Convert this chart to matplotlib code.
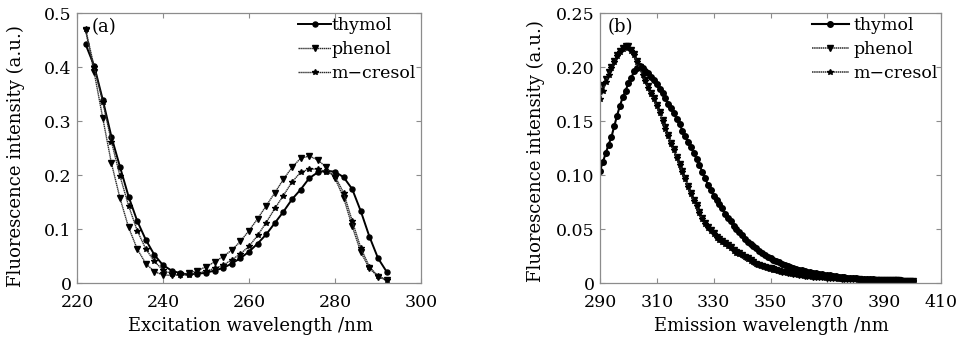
import matplotlib
matplotlib.use("Agg")
import matplotlib.pyplot as plt

plt.rcParams['font.family'] = ['DejaVu Serif']
plt.rcParams['mathtext.fontset'] = 'dejavuserif'

# ---------------- Panel (a): excitation spectra ----------------
ex_wl = [222, 224, 226, 228, 230, 232, 234, 236, 238, 240, 242, 244, 246, 248,
         250, 252, 254, 256, 258, 260, 262, 264, 266, 268, 270, 272, 274, 276,
         278, 280, 282, 284, 286, 288, 290, 292]
ex_thymol = [0.442, 0.402, 0.339, 0.271, 0.215, 0.160, 0.115, 0.080, 0.052, 0.033,
             0.023, 0.018, 0.016, 0.017, 0.019, 0.023, 0.028, 0.036, 0.046, 0.058,
             0.073, 0.090, 0.111, 0.132, 0.155, 0.173, 0.194, 0.205, 0.208, 0.206,
             0.196, 0.174, 0.133, 0.086, 0.046, 0.021]
ex_phenol = [0.468, 0.390, 0.305, 0.222, 0.157, 0.103, 0.063, 0.036, 0.021, 0.015,
             0.014, 0.015, 0.018, 0.023, 0.030, 0.039, 0.049, 0.061, 0.077, 0.097,
             0.119, 0.143, 0.167, 0.192, 0.214, 0.231, 0.235, 0.228, 0.214, 0.194,
             0.158, 0.105, 0.057, 0.027, 0.012, 0.005]
ex_mcresol = [0.470, 0.400, 0.335, 0.262, 0.198, 0.143, 0.097, 0.063, 0.040, 0.024,
              0.017, 0.014, 0.015, 0.018, 0.022, 0.027, 0.033, 0.043, 0.054, 0.068,
              0.088, 0.112, 0.138, 0.162, 0.187, 0.205, 0.211, 0.211, 0.206, 0.198,
              0.167, 0.115, 0.065, 0.030, 0.013, 0.006]

# ---------------- Panel (b): emission spectra ----------------
em_wl = list(range(290, 401))
em_thymol = [0.104, 0.112, 0.120, 0.128, 0.135, 0.145, 0.155, 0.164, 0.172, 0.178,
             0.185, 0.190, 0.196, 0.199, 0.201, 0.199, 0.196, 0.194, 0.191, 0.188,
             0.184, 0.180, 0.176, 0.171, 0.166, 0.162, 0.157, 0.152, 0.147, 0.141,
             0.136, 0.131, 0.126, 0.120, 0.115, 0.109, 0.103, 0.097, 0.091, 0.086,
             0.081, 0.077, 0.073, 0.069, 0.064, 0.060, 0.057, 0.053, 0.050, 0.047,
             0.044, 0.041, 0.038, 0.036, 0.034, 0.032, 0.030, 0.028, 0.026, 0.024,
             0.023, 0.021, 0.020, 0.019, 0.018, 0.017, 0.016, 0.015, 0.014, 0.013,
             0.0125, 0.012, 0.011, 0.0105, 0.010, 0.0095, 0.009, 0.0085, 0.008, 0.0078,
             0.0075, 0.007, 0.0066, 0.0062, 0.0058, 0.0055, 0.0052, 0.005, 0.0047, 0.0045,
             0.0043, 0.0041, 0.0039, 0.0037, 0.0036, 0.0034, 0.0033, 0.0032, 0.0031, 0.003,
             0.0029, 0.0028, 0.0027, 0.0026, 0.0025, 0.0025, 0.0024, 0.0023, 0.0023, 0.0022,
             0.0022]
em_phenol = [0.178, 0.183, 0.189, 0.195, 0.200, 0.206, 0.211, 0.215, 0.218, 0.219,
             0.219, 0.216, 0.212, 0.206, 0.200, 0.194, 0.188, 0.182, 0.176, 0.171,
             0.165, 0.158, 0.151, 0.144, 0.137, 0.130, 0.124, 0.117, 0.110, 0.104,
             0.097, 0.090, 0.083, 0.077, 0.072, 0.066, 0.060, 0.056, 0.052, 0.049,
             0.046, 0.043, 0.041, 0.039, 0.037, 0.035, 0.033, 0.031, 0.029, 0.0275,
             0.026, 0.0245, 0.023, 0.021, 0.0195, 0.018, 0.017, 0.016, 0.015, 0.014,
             0.0135, 0.0128, 0.012, 0.0113, 0.0106, 0.010, 0.0095, 0.009, 0.0085, 0.008,
             0.0076, 0.0072, 0.0069, 0.0066, 0.0063, 0.006, 0.0058, 0.0056, 0.0054, 0.0052,
             0.005, 0.0048, 0.0046, 0.0044, 0.0042, 0.004, 0.0038, 0.0037, 0.0036, 0.0035,
             0.0034, 0.0033, 0.0032, 0.0031, 0.003, 0.003, 0.0029, 0.0028, 0.0028, 0.0027,
             0.0026, 0.0026, 0.0025, 0.0025, 0.0024, 0.0024, 0.0023, 0.0023, 0.0022, 0.0022,
             0.0021]
em_mcresol = [0.170, 0.178, 0.186, 0.193, 0.199, 0.205, 0.210, 0.214, 0.217, 0.219,
              0.218, 0.215, 0.211, 0.205, 0.199, 0.193, 0.187, 0.181, 0.175, 0.170,
              0.164, 0.157, 0.150, 0.143, 0.136, 0.129, 0.123, 0.116, 0.109, 0.103,
              0.096, 0.089, 0.082, 0.076, 0.071, 0.065, 0.059, 0.055, 0.051, 0.048,
              0.045, 0.042, 0.040, 0.038, 0.036, 0.034, 0.032, 0.030, 0.028, 0.027,
              0.0255, 0.024, 0.0225, 0.0205, 0.019, 0.0175, 0.0165, 0.0155, 0.0145, 0.0138,
              0.0132, 0.0125, 0.0118, 0.011, 0.0104, 0.0098, 0.0093, 0.0088, 0.0083, 0.0079,
              0.0075, 0.0071, 0.0068, 0.0065, 0.0062, 0.0059, 0.0057, 0.0055, 0.0053, 0.0051,
              0.0049, 0.0047, 0.0045, 0.0043, 0.0041, 0.0039, 0.0037, 0.0036, 0.0035, 0.0034,
              0.0033, 0.0032, 0.0031, 0.003, 0.003, 0.0029, 0.0028, 0.0028, 0.0027, 0.0026,
              0.0026, 0.0025, 0.0025, 0.0024, 0.0024, 0.0023, 0.0023, 0.0022, 0.0022, 0.0021,
              0.0021]

labels = ["thymol", "phenol", "m\u2212cresol"]

ex_xticks = [220, 240, 260, 280, 300]
ex_yticks = [0, 0.1, 0.2, 0.3, 0.4, 0.5]
ex_yticklabels = ["0", "0.1", "0.2", "0.3", "0.4", "0.5"]
em_xticks = [290, 310, 330, 350, 370, 390, 410]
em_yticks = [0, 0.05, 0.10, 0.15, 0.20, 0.25]
em_yticklabels = ["0", "0.05", "0.10", "0.15", "0.20", "0.25"]

FS = 12.5
LFS = 13
fig = plt.figure(figsize=(9.65, 3.39), dpi=100)
axA = fig.add_axes([77/965, 1-283/339, (421-77)/965, (283-13)/339])
axB = fig.add_axes([600/965, 1-283/339, (941-600)/965, (283-13)/339])

stylesA = [
    dict(color='black', lw=1.4, ls='-', marker='o', ms=3.6),
    dict(color='#2a2a2a', lw=1.0, ls=(0, (1, 0.4)), marker='v', ms=3.8),
    dict(color='#2a2a2a', lw=1.0, ls=(0, (1, 0.4)), marker='*', ms=3.8),
]
stylesB = [
    dict(color='black', lw=1.5, ls='-', marker='o', ms=4.0),
    dict(color='#2a2a2a', lw=1.1, ls=(0, (1, 0.4)), marker='v', ms=4.2),
    dict(color='#2a2a2a', lw=1.1, ls=(0, (1, 0.4)), marker='*', ms=4.0),
]

for ax, x, ys, styles in [(axA, ex_wl, [ex_thymol, ex_phenol, ex_mcresol], stylesA),
                          (axB, em_wl, [em_thymol, em_phenol, em_mcresol], stylesB)]:
    for y, lab, st in zip(ys, labels, styles):
        ax.plot(x, y, label=lab, markerfacecolor='black', markeredgecolor='black', **st)
    for sp in ax.spines.values():
        sp.set_color('#8c8c8c')
        sp.set_linewidth(0.9)
    ax.tick_params(direction='in', top=True, right=True, length=3.5, width=0.8,
                   color='#8c8c8c', labelsize=FS, labelcolor='black')
    ax.tick_params(axis='x', pad=8)
    ax.tick_params(axis='y', pad=4)
    ax.set_ylabel("Fluorescence intensity (a.u.)", fontsize=LFS)

axA.set_xlim(220, 300)
axA.set_ylim(0, 0.5)
axA.set_xticks(ex_xticks)
axA.set_yticks(ex_yticks)
axA.set_yticklabels(ex_yticklabels)
axA.set_xlabel("Excitation wavelength /nm", fontsize=LFS)
axA.xaxis.set_label_coords(0.503, -0.125)
axA.yaxis.set_label_coords(-0.151, 0.47)
axA.text(0.043, 0.98, "(a)", transform=axA.transAxes, fontsize=LFS, va='top', ha='left')
axA.legend(loc='upper right', bbox_to_anchor=(1.015, 1.025), frameon=False, fontsize=FS,
           handlelength=1.9, handletextpad=0.0, labelspacing=0.42, borderaxespad=0.2)

axB.set_xlim(290, 410)
axB.set_ylim(0, 0.25)
axB.set_xticks(em_xticks)
axB.set_yticks(em_yticks)
axB.set_yticklabels(em_yticklabels)
axB.set_xlabel("Emission wavelength /nm", fontsize=LFS)
axB.xaxis.set_label_coords(0.504, -0.125)
axB.yaxis.set_label_coords(-0.161, 0.49)
axB.text(0.022, 0.98, "(b)", transform=axB.transAxes, fontsize=LFS, va='top', ha='left')
axB.legend(loc='upper right', bbox_to_anchor=(1.022, 1.025), frameon=False, fontsize=FS,
           handlelength=2.1, handletextpad=0.3, labelspacing=0.42, borderaxespad=0.2)

fig.savefig("out.png", dpi=100)
